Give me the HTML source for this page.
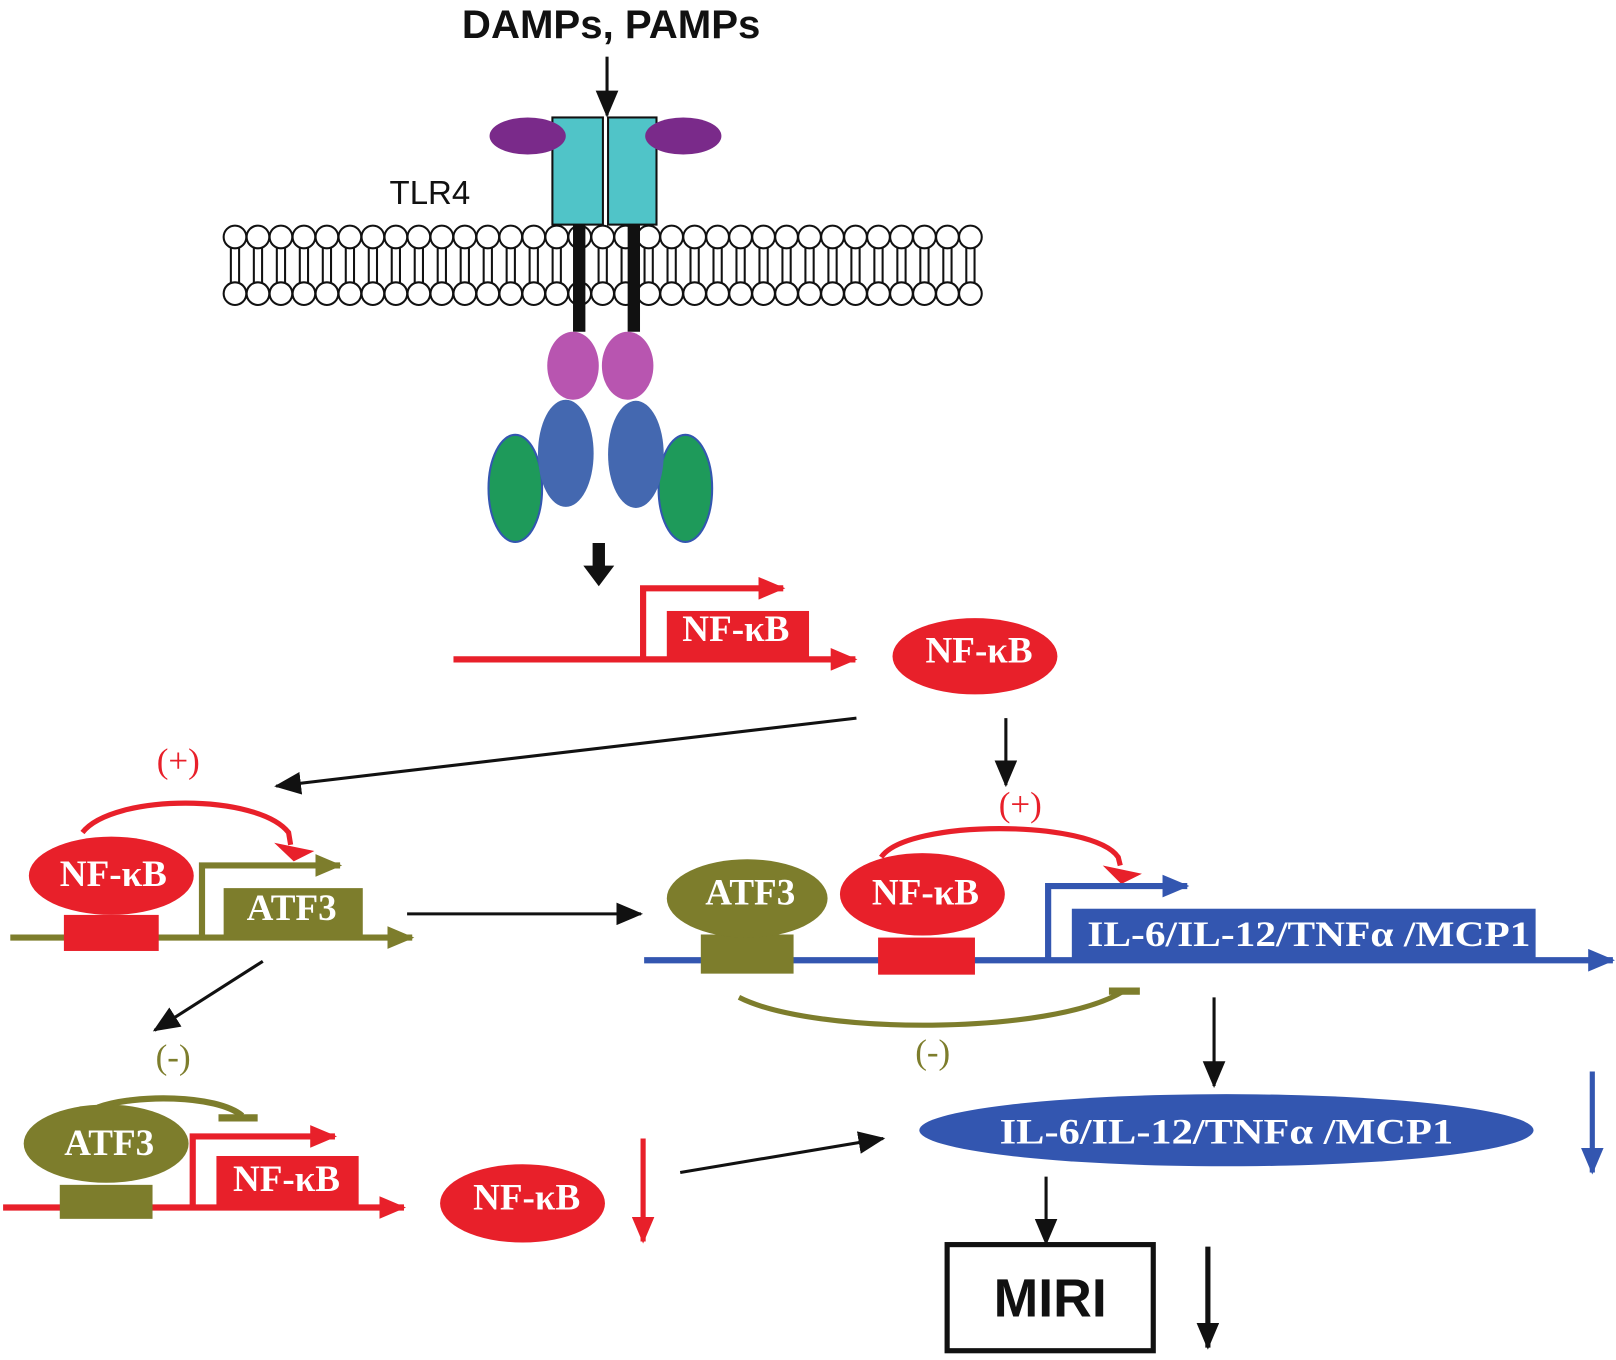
<!DOCTYPE html>
<html><head><meta charset="utf-8"><style>html,body{margin:0;padding:0;background:#fff}svg{display:block}</style></head>
<body>
<svg width="1616" height="1360" viewBox="0 0 1568 1320" preserveAspectRatio="none" xmlns="http://www.w3.org/2000/svg" xmlns:xlink="http://www.w3.org/1999/xlink">
<defs>
<marker id="akb" markerWidth="26" markerHeight="22" refX="24" refY="11" orient="auto" markerUnits="userSpaceOnUse"><path d="M0,0 L26,11 L0,22z" fill="#111"/></marker>
<marker id="ar" markerWidth="26" markerHeight="22" refX="24" refY="11" orient="auto" markerUnits="userSpaceOnUse"><path d="M0,0 L26,11 L0,22z" fill="#e8202a"/></marker>
<marker id="ao" markerWidth="26" markerHeight="22" refX="24" refY="11" orient="auto" markerUnits="userSpaceOnUse"><path d="M0,0 L26,11 L0,22z" fill="#7d7d2c"/></marker>
<marker id="ab" markerWidth="26" markerHeight="22" refX="24" refY="11" orient="auto" markerUnits="userSpaceOnUse"><path d="M0,0 L26,11 L0,22z" fill="#3356b0"/></marker>
<g id="u" stroke="#111" stroke-width="2" fill="#fff">
<line x1="-4" y1="240" x2="-4" y2="275"/><line x1="4" y1="240" x2="4" y2="275"/>
<circle cx="0" cy="230" r="11"/><circle cx="0" cy="285" r="11"/>
</g>
</defs>
<g font-family="Liberation Sans, sans-serif">
<text x="593" y="37" font-size="39" font-weight="bold" text-anchor="middle" fill="#111">DAMPs, PAMPs</text>
<line x1="589" y1="55" x2="589" y2="112" stroke="#111" stroke-width="3" marker-end="url(#akb)"/>
<text x="378" y="198" font-size="32" fill="#111">TLR4</text>
</g>
<g>
<use xlink:href="#u" x="228"/><use xlink:href="#u" x="250.3"/><use xlink:href="#u" x="272.6"/><use xlink:href="#u" x="294.9"/><use xlink:href="#u" x="317.2"/><use xlink:href="#u" x="339.5"/><use xlink:href="#u" x="361.8"/><use xlink:href="#u" x="384.1"/><use xlink:href="#u" x="406.4"/><use xlink:href="#u" x="428.7"/><use xlink:href="#u" x="451"/><use xlink:href="#u" x="473.3"/><use xlink:href="#u" x="495.6"/><use xlink:href="#u" x="517.9"/><use xlink:href="#u" x="540.2"/><use xlink:href="#u" x="562.5"/><use xlink:href="#u" x="584.8"/><use xlink:href="#u" x="607.1"/><use xlink:href="#u" x="629.4"/><use xlink:href="#u" x="651.7"/><use xlink:href="#u" x="674"/><use xlink:href="#u" x="696.3"/><use xlink:href="#u" x="718.6"/><use xlink:href="#u" x="740.9"/><use xlink:href="#u" x="763.2"/><use xlink:href="#u" x="785.5"/><use xlink:href="#u" x="807.8"/><use xlink:href="#u" x="830.1"/><use xlink:href="#u" x="852.4"/><use xlink:href="#u" x="874.7"/><use xlink:href="#u" x="897"/><use xlink:href="#u" x="919.3"/><use xlink:href="#u" x="941.6"/>
</g>
<rect x="536" y="114" width="49" height="104" fill="#50c4c8" stroke="#111" stroke-width="2"/>
<rect x="590" y="114" width="47" height="104" fill="#50c4c8" stroke="#111" stroke-width="2"/>
<ellipse cx="512" cy="132" rx="37" ry="18" fill="#7a2a8a"/>
<ellipse cx="663" cy="132" rx="37" ry="18" fill="#7a2a8a"/>
<rect x="556" y="218" width="12" height="104" fill="#111"/>
<rect x="609" y="218" width="12" height="104" fill="#111"/>
<ellipse cx="556" cy="355" rx="25" ry="33" fill="#b855b0"/>
<ellipse cx="609" cy="355" rx="25" ry="33" fill="#b855b0"/>
<ellipse cx="500" cy="474" rx="26" ry="52" fill="#1e9a5a" stroke="#3356b0" stroke-width="2"/>
<ellipse cx="665" cy="474" rx="26" ry="52" fill="#1e9a5a" stroke="#3356b0" stroke-width="2"/>
<ellipse cx="549" cy="440" rx="27" ry="52" fill="#4468b0"/>
<ellipse cx="617" cy="441" rx="27" ry="52" fill="#4468b0"/>
<path d="M575,527 h12 v22 h9 l-15,20 l-15,-20 h9z" fill="#111"/>
<g font-family="Liberation Serif, serif" font-weight="bold" fill="#fff" font-size="36" text-anchor="middle">
<line x1="440" y1="640" x2="830" y2="640" stroke="#e8202a" stroke-width="6" marker-end="url(#ar)"/>
<polyline points="624,640 624,571 760,571" fill="none" stroke="#e8202a" stroke-width="6" marker-end="url(#ar)"/>
<rect x="647" y="593" width="138" height="50" fill="#e8202a"/>
<text x="714" y="622">NF-κB</text>
<ellipse cx="946" cy="637" rx="80" ry="37" fill="#e8202a"/>
<text x="950" y="643">NF-κB</text>
<line x1="831" y1="697" x2="268" y2="763" stroke="#111" stroke-width="3" marker-end="url(#akb)"/>
<line x1="976" y1="697" x2="976" y2="762" stroke="#111" stroke-width="3" marker-end="url(#akb)"/>
<text x="173" y="750" fill="#e8202a" font-weight="normal" font-size="34">(+)</text>
<text x="990" y="792" fill="#e8202a" font-weight="normal" font-size="34">(+)</text>
<path d="M80,808 C110,770 250,770 280,808 L282,820" fill="none" stroke="#e8202a" stroke-width="5"/>
<path d="M266,818 L305,826 L285,836z" fill="#e8202a"/>
<line x1="10" y1="910" x2="400" y2="910" stroke="#7d7d2c" stroke-width="6" marker-end="url(#ao)"/>
<polyline points="196,910 196,840 330,840" fill="none" stroke="#7d7d2c" stroke-width="6" marker-end="url(#ao)"/>
<rect x="217" y="862" width="135" height="50" fill="#7d7d2c"/>
<text x="283" y="893">ATF3</text>
<rect x="62" y="888" width="92" height="35" fill="#e8202a"/>
<ellipse cx="108" cy="850" rx="80" ry="38" fill="#e8202a"/>
<text x="110" y="860">NF-κB</text>
<line x1="395" y1="887" x2="622" y2="887" stroke="#111" stroke-width="3" marker-end="url(#akb)"/>
<line x1="255" y1="933" x2="150" y2="1000" stroke="#111" stroke-width="3" marker-end="url(#akb)"/>
<text x="168" y="1037" fill="#7d7d2c" font-weight="normal" font-size="34">(-)</text>
<path d="M855,832 C880,795 1060,795 1085,832 L1087,840" fill="none" stroke="#e8202a" stroke-width="5"/>
<path d="M1070,840 L1108,848 L1088,858z" fill="#e8202a"/>
<line x1="625" y1="932" x2="1565" y2="932" stroke="#3356b0" stroke-width="6" marker-end="url(#ab)"/>
<polyline points="1017,932 1017,860 1152,860" fill="none" stroke="#3356b0" stroke-width="6" marker-end="url(#ab)"/>
<rect x="1040" y="882" width="450" height="50" fill="#3356b0"/>
<text x="1270" y="918" font-size="35" textLength="430" lengthAdjust="spacingAndGlyphs">IL-6/IL-12/TNFα /MCP1</text>
<rect x="680" y="907" width="90" height="38" fill="#7d7d2c"/>
<ellipse cx="725" cy="872" rx="78" ry="38" fill="#7d7d2c"/>
<text x="728" y="878">ATF3</text>
<rect x="852" y="910" width="94" height="36" fill="#e8202a"/>
<ellipse cx="895" cy="868" rx="80" ry="40" fill="#e8202a"/>
<text x="898" y="878">NF-κB</text>
<path d="M717,968 C790,1005 1020,1005 1090,962" fill="none" stroke="#7d7d2c" stroke-width="5"/>
<line x1="1076" y1="962" x2="1106" y2="962" stroke="#7d7d2c" stroke-width="7"/>
<text x="905" y="1032" fill="#7d7d2c" font-weight="normal" font-size="34">(-)</text>
<line x1="1178" y1="968" x2="1178" y2="1054" stroke="#111" stroke-width="3" marker-end="url(#akb)"/>
<line x1="1545" y1="1040" x2="1545" y2="1138" stroke="#3356b0" stroke-width="5" marker-end="url(#ab)"/>
<ellipse cx="1190" cy="1097" rx="298" ry="35" fill="#3356b0"/>
<text x="1190" y="1110" font-size="35" textLength="440" lengthAdjust="spacingAndGlyphs">IL-6/IL-12/TNFα /MCP1</text>
<path d="M95,1075 C130,1062 210,1062 235,1083" fill="none" stroke="#7d7d2c" stroke-width="6"/>
<line x1="212" y1="1085" x2="250" y2="1085" stroke="#7d7d2c" stroke-width="7"/>
<line x1="3" y1="1172" x2="392" y2="1172" stroke="#e8202a" stroke-width="6" marker-end="url(#ar)"/>
<polyline points="187,1172 187,1103 325,1103" fill="none" stroke="#e8202a" stroke-width="6" marker-end="url(#ar)"/>
<rect x="210" y="1122" width="138" height="50" fill="#e8202a"/>
<text x="278" y="1156">NF-κB</text>
<rect x="58" y="1150" width="90" height="33" fill="#7d7d2c"/>
<ellipse cx="103" cy="1110" rx="80" ry="38" fill="#7d7d2c"/>
<text x="106" y="1121">ATF3</text>
<ellipse cx="507" cy="1168" rx="80" ry="38" fill="#e8202a"/>
<text x="511" y="1174">NF-κB</text>
<line x1="624" y1="1105" x2="624" y2="1205" stroke="#e8202a" stroke-width="5" marker-end="url(#ar)"/>
<line x1="660" y1="1138" x2="857" y2="1105" stroke="#111" stroke-width="3" marker-end="url(#akb)"/>
<line x1="1015" y1="1142" x2="1015" y2="1207" stroke="#111" stroke-width="3" marker-end="url(#akb)"/>
</g>
<rect x="919" y="1208" width="200" height="103" fill="#fff" stroke="#111" stroke-width="5"/>
<text x="1019" y="1278" font-family="Liberation Sans, sans-serif" font-weight="bold" font-size="52" text-anchor="middle" fill="#111">MIRI</text>
<line x1="1172" y1="1210" x2="1172" y2="1308" stroke="#111" stroke-width="5" marker-end="url(#akb)"/>
</svg>
</body></html>
